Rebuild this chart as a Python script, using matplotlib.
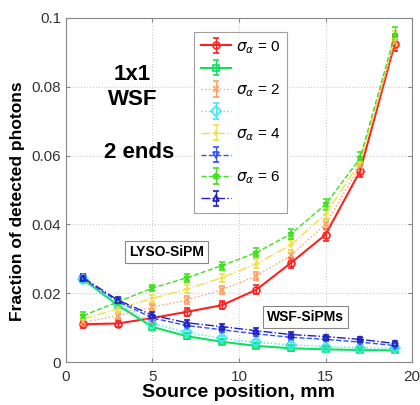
import matplotlib
matplotlib.use("Agg")
import matplotlib.pyplot as plt

plt.rcParams['font.family'] = ['Liberation Sans', 'DejaVu Sans']

# source positions, mm
x = [1, 3, 5, 7, 9, 11, 13, 15, 17, 19]

# LYSO-SiPM, one curve per sigma_alpha
lyso_s0 = [0.0110, 0.0112, 0.0128, 0.0146, 0.0165, 0.0210, 0.0288, 0.0370, 0.0555, 0.0925]
lyso_s2 = [0.0115, 0.0135, 0.0160, 0.0180, 0.0210, 0.0250, 0.0310, 0.0400, 0.0570, 0.0930]
lyso_s4 = [0.0125, 0.0155, 0.0185, 0.0212, 0.0245, 0.0285, 0.0340, 0.0430, 0.0580, 0.0940]
lyso_s6 = [0.0135, 0.0175, 0.0215, 0.0245, 0.0280, 0.0318, 0.0372, 0.0458, 0.0592, 0.0950]
lyso_err = [0.0010, 0.0010, 0.0010, 0.0011, 0.0012, 0.0013, 0.0015, 0.0017, 0.0018, 0.0022]

# WSF-SiPMs
wsf_s0 = [0.0240, 0.0165, 0.0102, 0.0075, 0.0059, 0.0047, 0.0040, 0.0037, 0.0035, 0.0034]
wsf_s2 = [0.0240, 0.0170, 0.0112, 0.0086, 0.0069, 0.0057, 0.0050, 0.0045, 0.0042, 0.0040]
wsf_s4 = [0.0242, 0.0176, 0.0128, 0.0106, 0.0094, 0.0082, 0.0072, 0.0066, 0.0058, 0.0048]
wsf_s6 = [0.0245, 0.0180, 0.0136, 0.0114, 0.0103, 0.0091, 0.0080, 0.0074, 0.0066, 0.0054]
wsf_err = [0.0010, 0.0009, 0.0008, 0.0008, 0.0007, 0.0007, 0.0007, 0.0006, 0.0006, 0.0006]

labels = [r'$\sigma_{\alpha}$ = 0', ' ', r'$\sigma_{\alpha}$ = 2', ' ',
          r'$\sigma_{\alpha}$ = 4', ' ', r'$\sigma_{\alpha}$ = 6', ' ']

fig = plt.figure(figsize=(4.2, 4.05), dpi=100)
ax = fig.add_axes([0.157, 0.106, 0.824, 0.85])

series = [
    (lyso_s0, lyso_err, '#ff2020', '-', 'o', 1.5),
    (wsf_s0, wsf_err, '#10e060', '-', 's', 1.5),
    (lyso_s2, lyso_err, '#ffa060', ':', 'x', 1.0),
    (wsf_s2, wsf_err, '#40e8f0', ':', 'D', 1.0),
    (lyso_s4, lyso_err, '#f0e040', '-.', '+', 1.0),
    (wsf_s4, wsf_err, '#3050ff', '--', 'v', 1.0),
    (lyso_s6, lyso_err, '#40e020', '--', '*', 1.0),
    (wsf_s6, wsf_err, '#2020c0', '-.', '^', 1.0),
]

handles = []
for y, e, c, ls, m, lw in series:
    h = ax.errorbar(x, y, yerr=e, color=c, ls=ls, marker=m, ms=5, lw=lw,
                    mfc='none', mew=1.2, capsize=2.5, elinewidth=1.0)
    handles.append(h)

leg = ax.legend(handles, labels, loc='upper right', bbox_to_anchor=(0.639, 0.959),
                borderaxespad=0, fontsize=11, frameon=True, fancybox=False,
                edgecolor='#888888', handlelength=2.0, handletextpad=0.3,
                borderpad=0.45, labelspacing=0.42)
leg.get_frame().set_linewidth(0.8)

ax.text(3.85, 0.080, '1x1\nWSF', ha='center', va='center', fontsize=16,
        fontweight='bold', linespacing=1.25)
ax.text(4.25, 0.061, '2 ends', ha='center', va='center', fontsize=16,
        fontweight='bold')

box = dict(boxstyle='square,pad=0.3', fc='white', ec='#888888', lw=0.8)
ax.text(5.8, 0.032, 'LYSO-SiPM', ha='center', va='center', fontsize=10,
        fontweight='bold', bbox=box)
ax.text(13.85, 0.0131, 'WSF-SiPMs', ha='center', va='center', fontsize=10,
        fontweight='bold', bbox=box)

ax.set_xlim(0, 20)
ax.set_ylim(0, 0.1)
ax.set_xticks([0, 5, 10, 15, 20])
ax.set_yticks([0, 0.02, 0.04, 0.06, 0.08, 0.1])
ax.set_yticklabels(['0', '0.02', '0.04', '0.06', '0.08', '0.1'])
ax.tick_params(direction='in', top=True, right=True, labelsize=11,
               labelcolor='#333333', color='#888888', length=3)
ax.tick_params(axis='x', pad=6)
ax.grid(True, ls=':', color='#cccccc', lw=0.8)
for s in ax.spines.values():
    s.set_color('#888888')

ax.set_xlabel('Source position, mm', fontsize=14, fontweight='bold', labelpad=0)
ax.set_ylabel('Fraction of detected photons', fontsize=12.5, fontweight='bold')
ax.yaxis.set_label_coords(-0.118, 0.468)

fig.savefig('out.png', dpi=100)
